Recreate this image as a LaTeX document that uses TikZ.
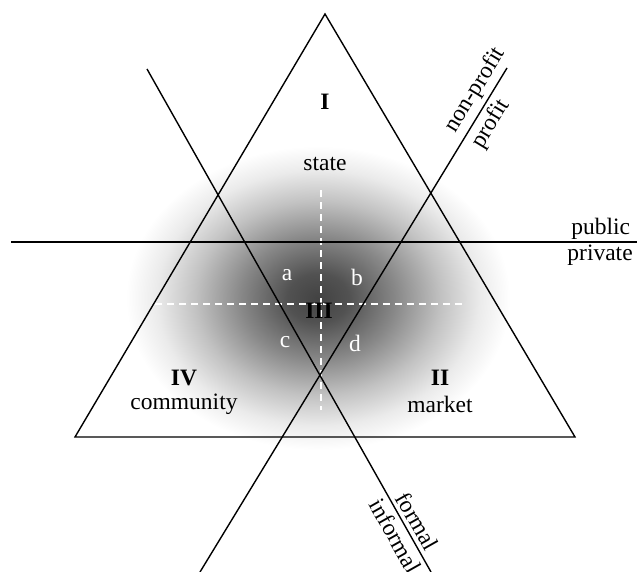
\documentclass[tikz,border=0pt]{standalone}
\usepackage{fontspec}
\setmainfont{Liberation Serif}
\pgfdeclareradialshading{glow}{\pgfpoint{0bp}{0bp}}{color(0bp)=(black!74); color(4bp)=(black!68); color(10bp)=(black!47); color(16bp)=(black!24); color(21bp)=(black!8); color(25bp)=(white); color(50bp)=(white)}
\begin{document}
\begin{tikzpicture}[x=1pt,y=-1pt,
  ln/.style={line width=1.4pt,black},
  wdash/.style={white,line width=1.3pt,dash pattern=on 7pt off 5pt},
  lbl/.style={font=\fontsize{23.5}{25}\selectfont,inner sep=2pt},
  slbl/.style={font=\fontsize{23.5}{25}\selectfont,inner sep=4pt},
  blbl/.style={font=\fontsize{23.5}{25}\selectfont\bfseries,inner sep=0pt},
  wlbl/.style={font=\fontsize{23.5}{25}\selectfont,text=white,inner sep=0pt}]
\useasboundingbox (0,0) rectangle (637,572);
% glow
\shade[shading=glow] (318,298) ellipse [x radius=192, y radius=152];
% dashed white cross
\coordinate (vt) at (321,190);
\coordinate (vb) at (321,410);
\coordinate (hl) at (155,304);
\coordinate (hr) at (465,304);
\draw[wdash] (vt) -- (vb);
\draw[wdash] (hl) -- (hr);
% triangle
\coordinate (A) at (325,14);
\coordinate (B) at (75,437);
\coordinate (C) at (575,437);
\draw[ln,line join=miter] (A) -- (B) -- (C) -- cycle;
% dividing lines
\coordinate (H1) at (11,242);
\coordinate (H2) at (637,242);
\coordinate (F1) at (147,69);
\coordinate (F2) at (431,572);
\coordinate (P1) at (200,572);
\coordinate (P2) at (507,68);
\draw[ln] (H1) -- (H2)
  node[lbl,pos=0.942,above] (pub) {public}
  node[lbl,pos=0.941,below] (priv) {private};
\draw[ln] (F1) -- (F2)
  node[slbl,pos=0.912,sloped,above] (form) {formal}
  node[slbl,pos=0.915,sloped,below] (inform) {informal};
\draw[ln] (P1) -- (P2)
  node[slbl,pos=0.94,sloped,above] (np) {non-profit}
  node[slbl,pos=0.905,sloped,below] (pr) {profit};
% region labels
\node[blbl] (I) at (325,102) {I};
\node[lbl] (state) at (325,164) {state};
\node[blbl] (III) at (319,311) {III};
\node[blbl] (IV) at (184,378) {IV};
\node[lbl] (comm) at (184,404) {community};
\node[blbl] (II) at (440,378) {II};
\node[lbl] (mkt) at (440,404) {market};
\node[wlbl] (a) at (287,275) {a};
\node[wlbl] (b) at (357,277) {b};
\node[wlbl] (c) at (285,342) {c};
\node[wlbl] (d) at (355,343) {d};
\end{tikzpicture}
\end{document}
